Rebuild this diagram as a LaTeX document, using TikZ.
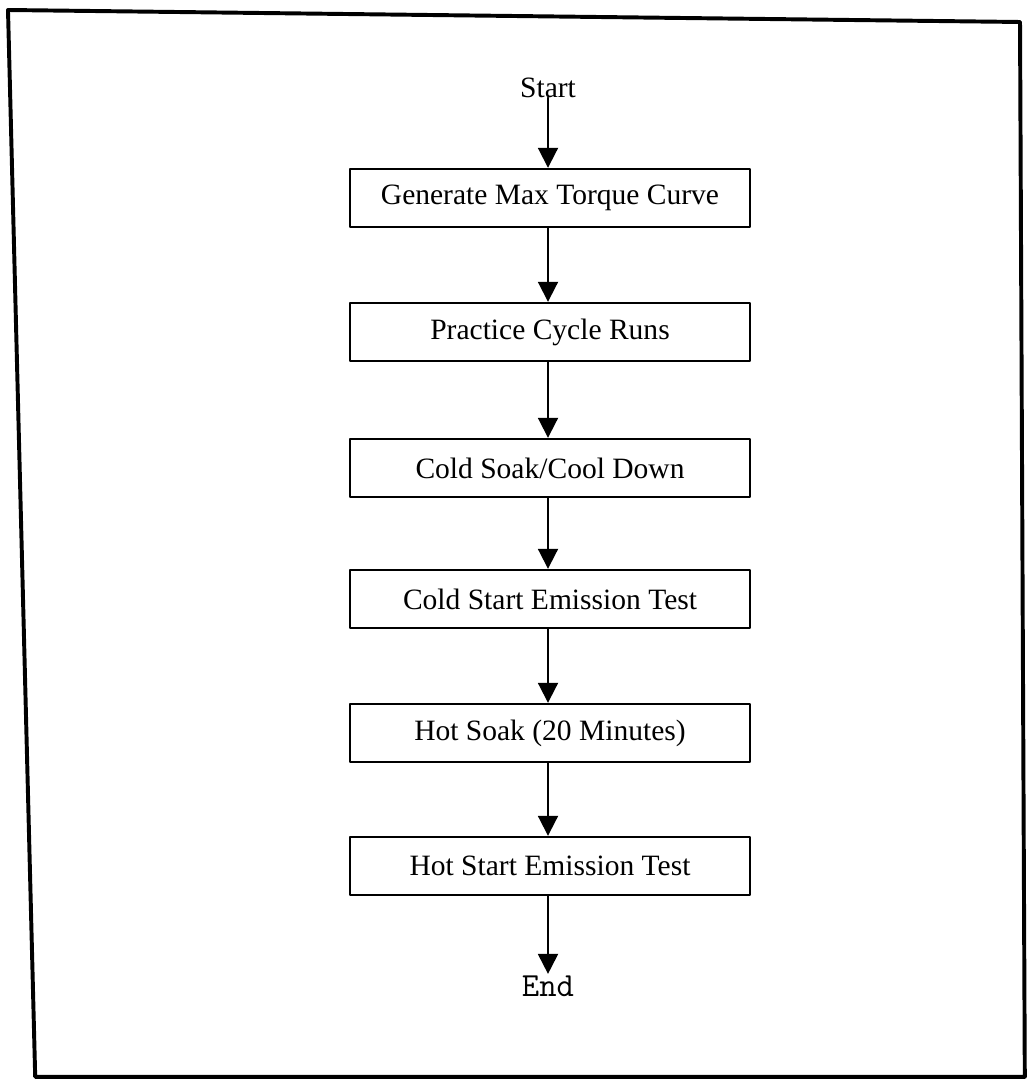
\documentclass[tikz,border=0pt]{standalone}
\usepackage{fontspec}
\setmainfont{Liberation Serif}
\usetikzlibrary{arrows.meta}

\begin{document}
\begin{tikzpicture}[line cap=round,line join=round,
  stepbox/.style={draw,line width=1.7pt,minimum width=10cm,minimum height=1.45cm,
    inner sep=0pt,font=\fontsize{21}{24}\selectfont},
  flow/.style={-{Triangle[length=0.5cm,width=0.5cm]},line width=1.4pt}]
\useasboundingbox (0,0) rectangle (25.75,-27);

% ---- outer frame (scanned page, slightly skewed) ----
\draw[line width=2.8pt] (0.2,-0.25) -- (25.5,-0.55) -- (25.62,-26.92) -- (0.88,-26.92) -- cycle;

% ---- start / end ----
\node (start) at (13.7,-2.2) {\fontsize{21}{24}\selectfont Start};
\node[inner sep=1pt] (end) at (13.7,-24.65) {\fontsize{24}{26}\selectfont\ttfamily End};

% ---- process boxes ----
\node[stepbox] (torque) at (13.75,-4.95)   {Generate Max Torque Curve};
\node[stepbox] (practice) at (13.75,-8.3)  {Practice Cycle Runs};
\node[stepbox] (coldsoak) at (13.75,-11.7) {Cold Soak/Cool Down};
\node[stepbox] (coldtest) at (13.75,-14.975) {Cold Start Emission Test};
\node[stepbox] (hotsoak) at (13.75,-18.325) {Hot Soak (20 Minutes)};
\node[stepbox] (hottest) at (13.75,-21.65) {Hot Start Emission Test};

% ---- arrows ----
\draw[flow] (start.base) -- (start.base |- torque.north);
\draw[flow] (torque.south -| start) -- (practice.north -| start);
\draw[flow] (practice.south -| start) -- (coldsoak.north -| start);
\draw[flow] (coldsoak.south -| start) -- (coldtest.north -| start);
\draw[flow] (coldtest.south -| start) -- (hotsoak.north -| start);
\draw[flow] (hotsoak.south -| start) -- (hottest.north -| start);
\draw[flow] (hottest.south -| start) -- (end);
\end{tikzpicture}
\end{document}
